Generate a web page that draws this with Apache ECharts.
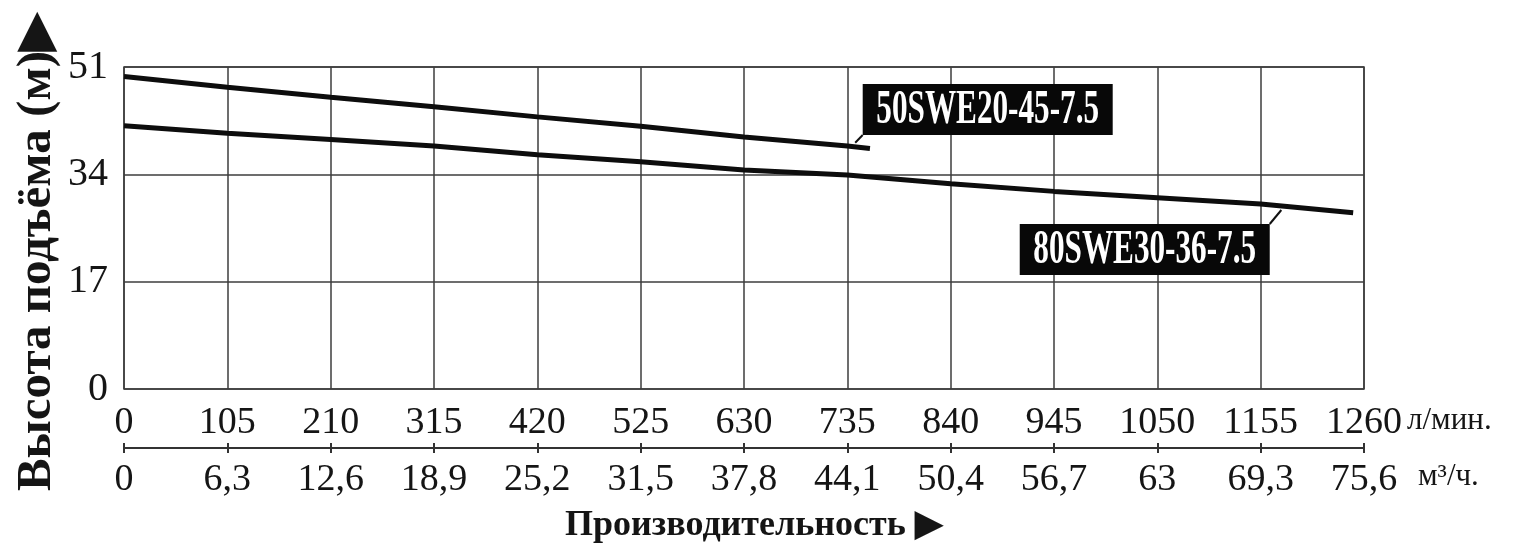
<!DOCTYPE html>
<html>
<head>
<meta charset="utf-8">
<script src="https://cdn.jsdelivr.net/npm/echarts@6.0.0/dist/echarts.min.js"></script>
<style>
    html, body { margin: 0; padding: 0; background: #fff; }
    #chart { width: 1525px; height: 557px; }
</style>
</head>
<body>
<div id="chart"></div>
<script>
// кривые напора, значения
let flow1 = [0, 105, 210, 315, 420, 525, 630, 735, 758];
let head1 = [49.5, 47.8, 46.2, 44.7, 43.1, 41.6, 39.9, 38.5, 38.1];
let flow2 = [0, 105, 210, 315, 420, 525, 630, 735, 840, 945, 1050, 1155, 1249];
let head2 = [41.7, 40.5, 39.5, 38.5, 37.1, 36.0, 34.7, 33.9, 32.5, 31.3, 30.3, 29.3, 27.9];
let pumpNames = ['50SWE20-45-7.5', '80SWE30-36-7.5'];

// оси
let flowMax = 1260, flowStep = 105;     // л/мин
let cubicMax = 75.6, cubicStep = 6.3;   // м3/ч
let headMax = 51, headStep = 17;
let unitNames = ['л/мин.', 'м³/ч.'];

let serif = '"Liberation Serif", "Times New Roman", serif';
let ink = '#151515';
let gridColor = '#3c3c3c';

let chart = echarts.init(document.getElementById('chart'));

function zip(xs, ys) {
    let out = [];
    for (let i = 0; i < xs.length; i++) {
        out.push([xs[i], ys[i]]);
    }
    return out;
}

function commaLabel(v) {
    return String(+v.toFixed(1)).replace('.', ',');
}

let option = {
    backgroundColor: '#fff',
    animation: false,
    title: {
        text: 'Производительность ▶',
        left: 560,
        top: 503,
        textStyle: { fontFamily: serif, fontSize: 36, fontWeight: 'bold', color: ink }
    },
    grid: {
        left: 124, right: 161, top: 67, bottom: 168,
        outerBoundsMode: 'none',
        show: true, borderColor: gridColor, borderWidth: 1.5, backgroundColor: '#fff'
    },
    xAxis: [
        {
            type: 'value', min: 0, max: flowMax, interval: flowStep,
            position: 'bottom',
            axisLine: { show: false },
            axisTick: { show: false },
            axisLabel: { fontFamily: serif, fontSize: 38, color: ink, margin: 15,
                formatter: function (v) { return String(v); } },
            splitLine: { show: true, lineStyle: { color: gridColor, width: 1.5 } }
        },
        {
            type: 'value', min: 0, max: cubicMax, interval: cubicStep,
            position: 'bottom', offset: 59,
            axisLine: { show: true, lineStyle: { color: '#333', width: 2 } },
            axisTick: { show: true, inside: true, length: 5, lineStyle: { color: '#333', width: 2 } },
            axisLabel: { fontFamily: serif, fontSize: 38, color: ink, margin: 13, formatter: commaLabel },
            splitLine: { show: false }
        },
        {
            // нижняя половина засечек второй шкалы
            type: 'value', min: 0, max: cubicMax, interval: cubicStep,
            position: 'bottom', offset: 59,
            axisLine: { show: false },
            axisTick: { show: true, inside: false, length: 5, lineStyle: { color: '#333', width: 2 } },
            axisLabel: { show: false },
            splitLine: { show: false }
        }
    ],
    yAxis: {
        type: 'value', min: 0, max: headMax, interval: headStep,
        name: 'Высота подъёма (м)▶', nameLocation: 'middle', nameRotate: 90, nameGap: 62,
        nameMoveOverlap: false,
        nameTextStyle: { fontFamily: serif, fontSize: 49, fontWeight: 'bold', color: ink, padding: [0, 48, 0, 0] },
        axisLine: { show: false },
        axisTick: { show: false },
        axisLabel: { fontFamily: serif, fontSize: 40, color: ink, margin: 16 },
        splitLine: { show: true, lineStyle: { color: gridColor, width: 1.5 } }
    },
    series: [
        {
            name: pumpNames[0], type: 'line', xAxisIndex: 0,
            data: zip(flow1, head1),
            symbol: 'none', smooth: false,
            lineStyle: { color: '#0d0d0d', width: 5, cap: 'butt' }
        },
        {
            name: pumpNames[1], type: 'line', xAxisIndex: 0,
            data: zip(flow2, head2),
            symbol: 'none', smooth: false,
            lineStyle: { color: '#0d0d0d', width: 5, cap: 'butt' }
        }
    ]
};
chart.setOption(option);

// подписи насосов в чёрных плашках с выноской
let tags = [
    { name: pumpNames[0], tip: [743, 39.0], dx: 7.5, dy: -7.7, corner: 'bottomLeft' },
    { name: pumpNames[1], tip: [1176, 28.35], dx: -11.6, dy: 14, corner: 'topRight' }
];
let boxW = 250, boxH = 51;
let graphics = [];
tags.forEach(function (t) {
    let p = chart.convertToPixel({ xAxisIndex: 0, yAxisIndex: 0 }, t.tip);
    let cx = p[0] + t.dx, cy = p[1] + t.dy;
    let left = t.corner === 'bottomLeft' ? cx : cx - boxW;
    let top = t.corner === 'bottomLeft' ? cy - boxH : cy;
    graphics.push({
        type: 'line',
        shape: { x1: p[0], y1: p[1], x2: cx, y2: cy },
        style: { stroke: '#111', lineWidth: 2 },
        z: 10
    });
    graphics.push({
        type: 'rect',
        shape: { x: left, y: top, width: boxW, height: boxH },
        style: { fill: '#080808' },
        z: 10
    });
    graphics.push({
        type: 'text',
        x: left + boxW / 2, y: top + boxH / 2 + 1,
        scaleX: 0.65,
        style: {
            text: t.name, fill: '#fff',
            fontFamily: serif, fontSize: 48, fontWeight: 'bold',
            align: 'center', verticalAlign: 'middle'
        },
        z: 11
    });
});

// единицы измерения справа от шкал расхода
let axisEnd = chart.convertToPixel({ xAxisIndex: 0 }, flowMax);
let axisBottom = chart.convertToPixel({ yAxisIndex: 0 }, 0);
graphics.push({
    type: 'text', x: axisEnd + 43, y: axisBottom + 32,
    style: { text: unitNames[0], fill: ink, fontFamily: serif, fontSize: 31, align: 'left', verticalAlign: 'middle' }
});
graphics.push({
    type: 'text', x: axisEnd + 54, y: axisBottom + 88,
    style: { text: unitNames[1], fill: ink, fontFamily: serif, fontSize: 31, align: 'left', verticalAlign: 'middle' }
});
chart.setOption({ graphic: graphics });
</script>
</body>
</html>
